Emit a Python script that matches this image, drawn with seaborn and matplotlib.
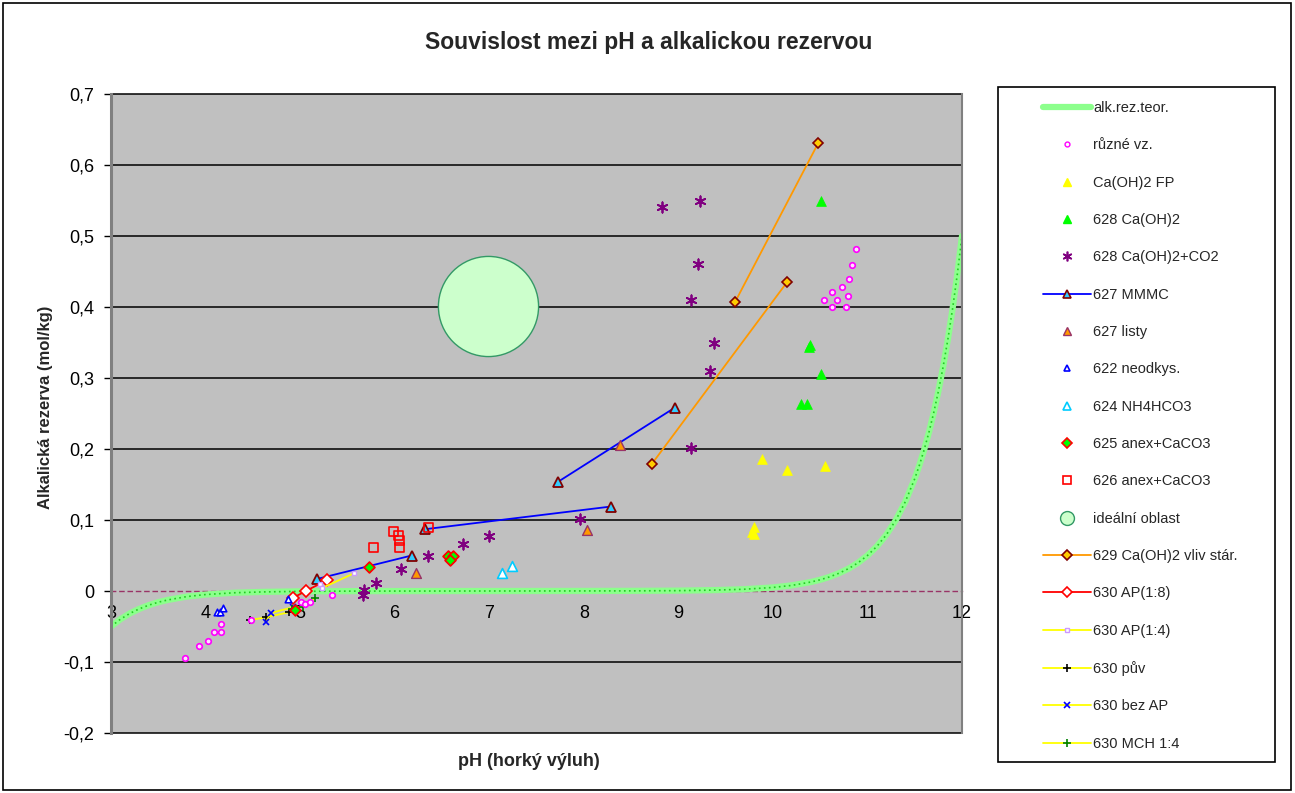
import numpy as np
import pandas as pd
import matplotlib
matplotlib.use("Agg")
import matplotlib.pyplot as plt
from matplotlib.lines import Line2D
from matplotlib.patches import Rectangle
from matplotlib.ticker import FuncFormatter
import seaborn as sns

sns.set_theme(style="white")
plt.rcParams['font.family'] = ['Liberation Sans', 'DejaVu Sans']

# ---------------------------------------------------------------- data
# theoretical alkaline reserve curve
teor_ph = [3.0, 3.1, 3.2, 3.3, 3.4, 3.5, 3.6, 3.8, 4.0, 4.3, 4.6, 5.0, 5.5, 6.0, 7.0,
           8.0, 8.5, 9.0, 9.4, 9.7, 10.0, 10.2, 10.4, 10.5, 10.6, 10.7, 10.8, 10.9,
           11.0, 11.1, 11.2, 11.3, 11.4, 11.5, 11.55, 11.6, 11.65, 11.7, 11.75, 11.8,
           11.85, 11.9, 11.95, 12.0]
teor_ar = [-0.0500, -0.0397, -0.0315, -0.0251, -0.0199, -0.0158, -0.0126, -0.0079,
           -0.0050, -0.0025, -0.0013, -0.0005, -0.0002, -0.0001, 0.0, 0.0001, 0.0002,
           0.0005, 0.0013, 0.0025, 0.0050, 0.0079, 0.0126, 0.0158, 0.0199, 0.0251,
           0.0315, 0.0397, 0.0500, 0.0629, 0.0792, 0.0998, 0.1256, 0.1581, 0.1774,
           0.1991, 0.2233, 0.2506, 0.2812, 0.3155, 0.3540, 0.3972, 0.4456, 0.5000]

ruzne_ph = [10.88, 10.84, 10.81, 10.73, 10.63, 10.79, 10.54, 10.68, 10.62, 10.77,
            4.16, 4.09, 4.16, 4.03, 3.93, 3.78, 5.34, 5.01, 5.05, 5.10, 4.48]
ruzne_ar = [0.481, 0.459, 0.439, 0.428, 0.421, 0.415, 0.410, 0.410, 0.400, 0.400,
            -0.046, -0.058, -0.058, -0.071, -0.077, -0.094, -0.005, -0.016, -0.018,
            -0.016, -0.041]

fp_ph = [9.88, 10.15, 10.55, 9.80, 9.78, 9.80]
fp_ar = [0.186, 0.170, 0.176, 0.090, 0.083, 0.080]

c628_ph = [10.51, 10.39, 10.38, 10.51, 10.30, 10.36]
c628_ar = [0.549, 0.346, 0.343, 0.305, 0.264, 0.264]

co2_ph = [8.83, 9.23, 9.21, 9.13, 9.38, 9.33, 9.13, 7.96, 7.00, 6.72, 6.35, 6.07,
          5.80, 5.68, 5.67]
co2_ar = [0.541, 0.549, 0.460, 0.410, 0.350, 0.310, 0.201, 0.101, 0.077, 0.066,
          0.050, 0.031, 0.011, 0.002, -0.006]

mmmc_ph = [5.18, 6.18, 6.32, 8.29, 7.73, 8.96]
mmmc_ar = [0.017, 0.050, 0.087, 0.119, 0.154, 0.258]
mmmc_seg = [1, 1, 2, 2, 3, 3]

listy_ph = [8.38, 8.03, 6.23]
listy_ar = [0.206, 0.086, 0.026]

neod_ph = [4.12, 4.15, 4.18, 4.87]
neod_ar = [-0.030, -0.030, -0.024, -0.011]

nh4_ph = [7.14, 7.24]
nh4_ar = [0.025, 0.035]

a625_ph = [5.73, 6.56, 6.62, 6.59, 4.95]
a625_ar = [0.034, 0.050, 0.050, 0.044, -0.027]

a626_ph = [5.78, 5.99, 6.04, 6.05, 6.05, 6.36]
a626_ar = [0.061, 0.084, 0.078, 0.071, 0.061, 0.089]

ideal_ph = [6.99]
ideal_ar = [0.401]

s629_ph = [9.60, 10.48, 8.72, 10.15]
s629_ar = [0.407, 0.631, 0.179, 0.435]
s629_seg = [1, 1, 2, 2]

ap18_ph = [4.92, 5.06, 5.28]
ap18_ar = [-0.010, 0.000, 0.015]

ap14_ph = [5.21, 5.23, 5.57]
ap14_ar = [0.010, 0.004, 0.025]

puv_ph = [4.47, 4.64, 4.88]
puv_ar = [-0.041, -0.037, -0.030]

bez_ph = [4.64, 4.69, 4.92]
bez_ar = [-0.044, -0.031, -0.023]

mch_ph = [4.91, 5.03, 5.16]
mch_ar = [-0.025, -0.022, -0.010]

y_ticks = [-0.2, -0.1, 0.0, 0.1, 0.2, 0.3, 0.4, 0.5, 0.6, 0.7]
x_ticks = [3, 4, 5, 6, 7, 8, 9, 10, 11, 12]

title = "Souvislost mezi pH a alkalickou rezervou"
x_label = "pH (horký výluh)"
y_label = "Alkalická rezerva (mol/kg)"

# ---------------------------------------------------------------- figure
W, H = 1295, 793
fig = plt.figure(figsize=(W / 100, H / 100), dpi=100)
fig.patch.set_facecolor("white")
ax = fig.add_axes([111 / W, 1 - 733 / H, 851 / W, 639 / H])
ax.set_facecolor("#c0c0c0")
ax.set_xlim(3, 12)
ax.set_ylim(-0.2, 0.7)

# horizontal gridlines (the zero level is the dashed axis line)
for v in y_ticks:
    if v != 0:
        ax.axhline(v, color="black", lw=1.1, zorder=0.5, clip_on=False)

# theoretical curve
sns.lineplot(x=teor_ph, y=teor_ar, ax=ax, color="#8cff8c", lw=4.5, sort=False,
             estimator=None, legend=False, zorder=2)
sns.lineplot(x=teor_ph, y=teor_ar, ax=ax, color="#22cc22", lw=1.2, ls=(0, (1, 2)),
             sort=False, estimator=None, legend=False, zorder=2)


def scatter(xs, ys, marker, size, face, edge, lw=1.0, z=4):
    sns.scatterplot(x=xs, y=ys, ax=ax, marker=marker, s=size, color=face,
                    edgecolor=edge, linewidth=lw, legend=False, zorder=z)


def linemark(xs, ys, units, lcolor, marker, ms, face, edge, mew=1.0, z=3):
    df = pd.DataFrame({"x": xs, "y": ys, "u": units})
    sns.lineplot(data=df, x="x", y="y", units="u", estimator=None, sort=False,
                 ax=ax, color=lcolor, lw=1.3, marker=marker, markersize=ms,
                 markerfacecolor=face, markeredgecolor=edge, markeredgewidth=mew,
                 legend=False, zorder=z)


# ideal region bubble
scatter(ideal_ph, ideal_ar, "o", 5200, "#ccffcc", "#339966", 1.0, z=3)

scatter(ruzne_ph, ruzne_ar, "o", 16, "#ffe0ff", "#ff00ff", 1.2)
scatter(fp_ph, fp_ar, "^", 50, "#ffff00", "#ffff00", 0.5)
scatter(c628_ph, c628_ar, "^", 50, "#00ff00", "#00ff00", 0.5)
scatter(co2_ph, co2_ar, (6, 2, 0), 55, "#800080", "#800080", 1.3)
linemark(mmmc_ph, mmmc_ar, mmmc_seg, "#0000ff", "^", 7, "#33ccff", "#800000", 1.3)
scatter(listy_ph, listy_ar, "^", 50, "#ff9900", "#993366", 1.0)
scatter(neod_ph, neod_ar, "^", 22, "white", "#0000ff", 1.2)
scatter(nh4_ph, nh4_ar, "^", 50, "white", "#00ccff", 1.2)
scatter(a625_ph, a625_ar, "D", 30, "#00ff00", "#ff0000", 1.3)
scatter(a626_ph, a626_ar, "s", 40, "none", "#ff0000", 1.2)
linemark(s629_ph, s629_ar, s629_seg, "#ff9900", "D", 5.5, "#ffcc00", "#800000", 1.2)
linemark(ap18_ph, ap18_ar, [1] * 3, "#ff0000", "D", 6, "white", "#ff0000", 1.2)
linemark(ap14_ph, ap14_ar, [1] * 3, "#ffff00", "s", 3.5, "white", "#cc99ff", 1.0)
linemark(puv_ph, puv_ar, [1] * 3, "#ffff00", "+", 6, "black", "black", 1.2)
linemark(bez_ph, bez_ar, [1] * 3, "#ffff00", "x", 5, "#0000ff", "#0000ff", 1.2)
linemark(mch_ph, mch_ar, [1] * 3, "#ffff00", "+", 6, "#008000", "#008000", 1.2)

# ---------------------------------------------------------------- axes styling
ax.spines["top"].set_visible(False)
ax.spines["left"].set_color("#808080")
ax.spines["left"].set_linewidth(2.2)
ax.spines["right"].set_color("#808080")
ax.spines["right"].set_linewidth(1.5)
ax.spines["bottom"].set_position(("data", 0))
ax.spines["bottom"].set_color("#993366")
ax.spines["bottom"].set_linewidth(1.0)
ax.spines["bottom"].set_linestyle((0, (3, 3)))
ax.spines["bottom"].set_zorder(1)

ax.set_xticks(x_ticks)
ax.set_xticklabels([str(t) for t in x_ticks])
ax.set_yticks(y_ticks)
ax.yaxis.set_major_formatter(FuncFormatter(
    lambda v, p: "0" if abs(v) < 1e-9 else f"{v:.1f}".replace(".", ",")))
ax.tick_params(axis="x", direction="out", length=3, width=1, color="#993366",
               labelsize=13, pad=7, labelcolor="black")
ax.tick_params(axis="y", direction="out", length=5, width=1, color="black",
               labelsize=13, pad=7, labelcolor="black", left=True)
ax.set_xlabel("")
ax.set_ylabel(y_label, fontsize=12, fontweight="bold")
ax.yaxis.set_label_coords(-0.068, 0.51)

fig.text(649 / W, 1 - 42 / H, title, ha="center", va="center", fontsize=16.5,
         fontweight="bold")
fig.text(529 / W, 1 - 762 / H, x_label, ha="center", va="center", fontsize=13,
         fontweight="bold")

# ---------------------------------------------------------------- legend
handles = [
    Line2D([], [], color="#8cff8c", lw=4.5),
    Line2D([], [], ls="none", marker="o", ms=3.5, mfc="white", mec="#ff00ff", mew=1.0),
    Line2D([], [], ls="none", marker="^", ms=6, mfc="#ffff00", mec="#ffff00"),
    Line2D([], [], ls="none", marker="^", ms=6, mfc="#00ff00", mec="#00ff00"),
    Line2D([], [], ls="none", marker=(6, 2, 0), ms=7, mfc="#800080", mec="#800080", mew=1.2),
    Line2D([], [], color="#0000ff", lw=1.3, marker="^", ms=6, mfc="#33ccff", mec="#800000", mew=1.2),
    Line2D([], [], ls="none", marker="^", ms=6, mfc="#ff9900", mec="#993366"),
    Line2D([], [], ls="none", marker="^", ms=4.5, mfc="white", mec="#0000ff", mew=1.2),
    Line2D([], [], ls="none", marker="^", ms=6, mfc="white", mec="#00ccff", mew=1.2),
    Line2D([], [], ls="none", marker="D", ms=5, mfc="#00ff00", mec="#ff0000", mew=1.2),
    Line2D([], [], ls="none", marker="s", ms=5.5, mfc="white", mec="#ff0000", mew=1.2),
    Line2D([], [], ls="none", marker="o", ms=10, mfc="#ccffcc", mec="#339966", mew=1.0),
    Line2D([], [], color="#ff9900", lw=1.3, marker="D", ms=5, mfc="#ffcc00", mec="#800000", mew=1.2),
    Line2D([], [], color="#ff0000", lw=1.3, marker="D", ms=5.5, mfc="white", mec="#ff0000", mew=1.2),
    Line2D([], [], color="#ffff00", lw=1.3, marker="s", ms=3.5, mfc="white", mec="#cc99ff", mew=1.0),
    Line2D([], [], color="#ffff00", lw=1.3, marker="+", ms=6, mec="black", mew=1.2),
    Line2D([], [], color="#ffff00", lw=1.3, marker="x", ms=5, mec="#0000ff", mew=1.2),
    Line2D([], [], color="#ffff00", lw=1.3, marker="+", ms=6, mec="#008000", mew=1.2),
]
labels = ["alk.rez.teor.", "různé vz.", "Ca(OH)2 FP", "628 Ca(OH)2", "628 Ca(OH)2+CO2",
          "627 MMMC", "627 listy", "622 neodkys.", "624 NH4HCO3", "625 anex+CaCO3",
          "626 anex+CaCO3", "ideální oblast", "629 Ca(OH)2 vliv stár.", "630 AP(1:8)",
          "630 AP(1:4)", "630 pův", "630 bez AP", "630 MCH 1:4"]
leg = fig.legend(handles, labels, loc="upper left",
                 bbox_to_anchor=(1043 / W, 1 - 101 / H), frameon=False,
                 fontsize=10.5, handlelength=3.3, handletextpad=0.15,
                 labelspacing=1.6, borderpad=0, borderaxespad=0)

fig.patches.append(Rectangle((998 / W, 1 - 762 / H), 277 / W, 675 / H,
                             transform=fig.transFigure, fill=False,
                             edgecolor="black", lw=1.2))
fig.patches.append(Rectangle((3 / W, 3 / H), 1288 / W, 787 / H,
                             transform=fig.transFigure, fill=False,
                             edgecolor="black", lw=1.2))

fig.savefig("out.png", dpi=100, facecolor="white")
